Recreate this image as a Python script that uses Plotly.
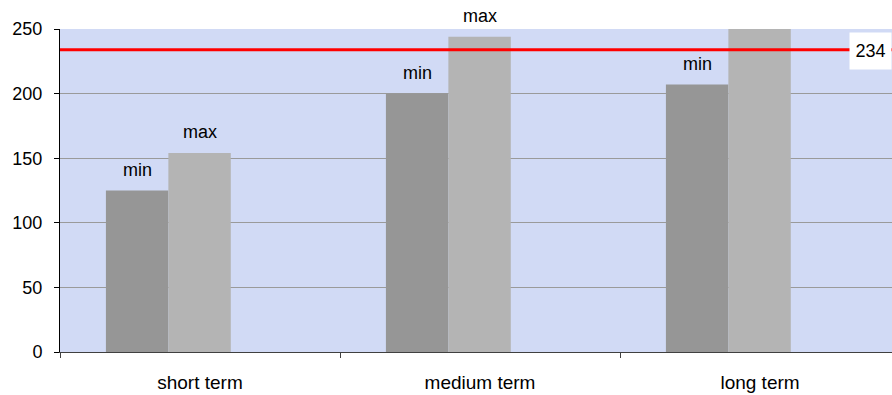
import plotly.graph_objects as go

categories = ["short term", "medium term", "long term"]
min_values = [125, 200, 207]
max_values = [154, 244, 252]
threshold = 234
y_ticks = [0, 50, 100, 150, 200, 250]

bar_w = 0.223
off_min = -0.336
off_max = off_min + bar_w
FONT = "Liberation Sans, Arial"

fig = go.Figure()
fig.add_trace(go.Bar(x=categories, y=min_values, name="min", width=bar_w, offset=off_min,
                     marker=dict(color="#969696", line=dict(width=0))))
fig.add_trace(go.Bar(x=categories, y=max_values, name="max", width=bar_w, offset=off_max,
                     marker=dict(color="#b4b4b4", line=dict(width=0))))

annotations = []
for i in range(len(categories)):
    annotations.append(dict(x=i + off_min + bar_w / 2, y=min_values[i], xref="x", yref="y",
                            text="min", showarrow=False, yanchor="bottom", yshift=9,
                            font=dict(family=FONT, size=18, color="black")))
    annotations.append(dict(x=i + off_max + bar_w / 2, y=max_values[i], xref="x", yref="y",
                            text="max", showarrow=False, yanchor="bottom", yshift=9,
                            font=dict(family=FONT, size=18, color="black")))
annotations.append(dict(x=0.9995, xref="paper", y=threshold, yref="y", text=str(threshold),
                        showarrow=False, xanchor="right", yanchor="middle", yshift=-1,
                        bgcolor="white", width=33, height=28, borderpad=4,
                        font=dict(family=FONT, size=18, color="black")))

fig.add_shape(type="line", xref="paper", x0=0, x1=1, yref="y", y0=threshold, y1=threshold,
              line=dict(color="#ff0000", width=3), layer="above")

fig.update_layout(
    width=892, height=395,
    margin=dict(l=60, r=0, t=29, b=43),
    paper_bgcolor="white",
    plot_bgcolor="#d1daf5",
    showlegend=False,
    barmode="overlay",
    annotations=annotations,
    font=dict(family=FONT, size=18, color="black"),
)
fig.update_xaxes(range=[-0.5, 2.5 - 8 / 280], showline=True, linecolor="#404040", linewidth=1,
                 ticks="outside", tickson="boundaries", ticklen=5, tickcolor="#404040",
                 showgrid=False, tickfont=dict(size=19), ticklabelstandoff=13)
fig.update_yaxes(range=[0, 250], tickvals=y_ticks, showline=True, linecolor="black", linewidth=1,
                 ticks="outside", ticklen=5, tickcolor="black", showgrid=True,
                 gridcolor="#9a9a9a", gridwidth=1, zeroline=False, tickfont=dict(size=18),
                 ticklabelstandoff=8)

fig.write_html("out.html")
